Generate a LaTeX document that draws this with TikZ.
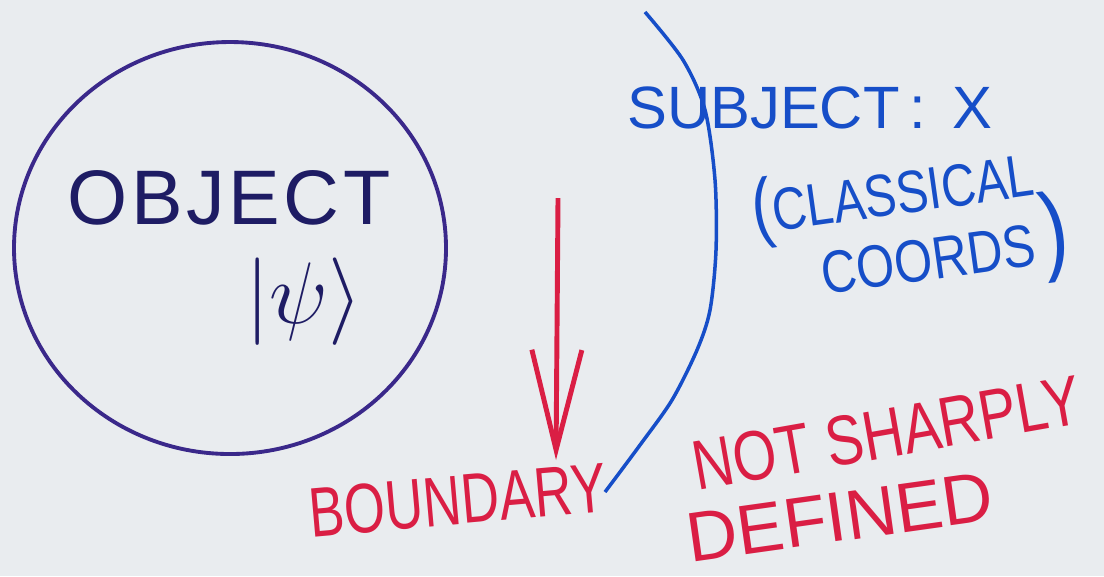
\documentclass[tikz,border=0pt]{standalone}
\usepackage{fontspec}
\setmainfont{Liberation Sans}
\usetikzlibrary{arrows.meta}
\definecolor{objink}{RGB}{58,40,138}
\definecolor{objtext}{RGB}{30,28,100}
\definecolor{subjink}{RGB}{22,78,200}
\definecolor{redink}{RGB}{218,30,68}
\definecolor{paper}{RGB}{233,236,239}

\begin{document}
\begin{tikzpicture}[
    objpen/.style = {objink, line width = 1.1pt},
    subjpen/.style = {subjink, line width = 1pt},
    redpen/.style = {redink, line width = 1.4pt},
    bluetext/.style = {text = subjink, font = \fontsize{17}{17}\selectfont, inner sep = 0pt},
    redtext/.style = {text = redink, font = \fontsize{20}{20}\selectfont, inner sep = 0pt},
]
    \fill [paper] (0, 0) rectangle (11.04, -5.76);
    \useasboundingbox (0, 0) rectangle (11.04, -5.76);

    % object
    \draw [objpen] (2.30, -2.48) ellipse (2.16 and 2.06);
    \node [text = objtext, font = \fontsize{22}{22}\selectfont, inner sep = 0pt] (obj) at (2.29, -1.98) {O\kern1ptB\kern1ptJ\kern1ptE\kern1ptC\kern1ptT};
    \node [text = objtext, font = \fontsize{44}{44}\selectfont, inner sep = 0pt] (psi) at (3.04, -3.02) {$|\psi\rangle$};

    % subject
    \draw [subjpen] plot [smooth] coordinates {
        (6.45, -0.12) (6.83, -0.60) (7.05, -1.10) (7.15, -1.80) (7.16, -2.50)
        (7.10, -3.10) (6.97, -3.50) (6.72, -4.00) (6.40, -4.45) (6.05, -4.92)};
    \node [bluetext] (subj) at (8.10, -1.08) {SUBJECT\,:\, X};
    \node [bluetext, rotate = 8, xscale = 0.8] (cls) at (8.93, -1.95) {{\fontsize{22}{22}\selectfont(}CLASSICAL};
    \node [bluetext, rotate = 8, xscale = 0.82] (crd) at (9.45, -2.52) {COORDS\,{\fontsize{28}{28}\selectfont)}};

    % boundary
    \node [redtext, rotate = 5, xscale = 0.75] (bnd) at (4.58, -5.00) {BOUNDARY};
    \node [redtext, rotate = 10, xscale = 0.8] (nsh) at (8.87, -4.33) {NOT SHARPLY};
    \node [redtext, rotate = 8] (dfn) at (8.40, -5.17) {DEFINED};
    \coordinate (arrtop) at (5.58, -1.98);
    \coordinate (arrtip) at (5.56, -4.60);
    \draw [redpen, -{Straight Barb[length = 10mm, width = 5mm]}] (arrtop) -- (arrtip);
\end{tikzpicture}
\end{document}
